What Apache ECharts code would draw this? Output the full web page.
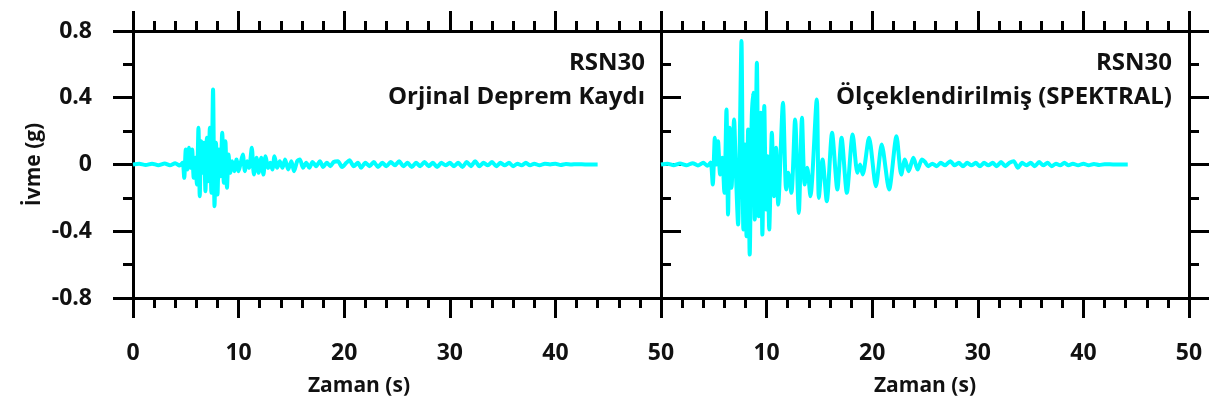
<!DOCTYPE html>
<html>
<head>
<meta charset="utf-8">
<script src="https://cdn.jsdelivr.net/npm/echarts@6/dist/echarts.min.js"></script>
<style>html,body{margin:0;padding:0;background:#fff;}#c{width:1214px;height:405px;}</style>
</head>
<body>
<div id="c"></div>
<script>
// ---- data ----
const xTicks = [0, 10, 20, 30, 40, 50];
const yTicks = [-0.8, -0.4, 0, 0.4, 0.8];
const panelTitles = ['RSN30', 'RSN30'];
const panelSubtitles = ['Orjinal Deprem Kaydı', 'Ölçeklendirilmiş (SPEKTRAL)'];
const xAxisTitle = 'Zaman (s)';
const yAxisTitle = 'İvme (g)';

const timeOrig = [0,0.6,1.2,1.8,2.4,3.0,3.5,4.0,4.4,4.7,4.85,5.0,5.15,5.3,5.45,5.6,5.75,5.9,6.05,6.2,6.32,6.45,6.58,6.72,6.86,7.0,7.12,7.28,7.42,7.58,7.72,7.86,8.0,8.14,8.28,8.45,8.6,8.75,8.9,9.05,9.2,9.4,9.6,9.8,10.0,10.2,10.4,10.6,10.8,11.0,11.25,11.45,11.7,11.9,12.15,12.35,12.55,12.8,13.0,13.2,13.4,13.65,13.9,14.15,14.4,14.7,15.0,15.25,15.55,15.8,16.1,16.4,16.7,17.0,17.35,17.7,18.0,18.35,18.7,19.0,19.4,19.8,20.2,20.5,20.9,21.3,21.6,22.0,22.4,22.8,23.2,23.6,24.0,24.4,24.8,25.2,25.6,26.0,26.4,26.8,27.2,27.6,28.0,28.4,28.8,29.2,29.6,30.0,30.4,30.8,31.2,31.6,32.0,32.4,32.8,33.2,33.6,34.0,34.4,34.8,35.2,35.6,36.0,36.4,36.8,37.2,37.6,38.0,38.5,39.0,39.5,40.0,40.5,41.0,41.5,42.0,43.0,44.0];
const accOrig = [0,0.004,-0.003,0.005,-0.004,0.006,-0.005,0.008,-0.006,0.01,-0.08,0.09,-0.03,0.10,-0.02,0.09,-0.08,0.04,-0.12,0.22,-0.19,0.14,-0.05,0.13,-0.16,0.16,-0.10,0.22,-0.17,0.45,-0.25,0.13,-0.18,0.09,-0.07,0.19,-0.11,0.14,-0.14,0.06,-0.05,0.02,-0.04,0.03,-0.04,0.01,0.06,-0.04,0.02,-0.02,0.10,-0.06,0.04,-0.05,0.04,-0.06,0.05,-0.02,0.01,-0.03,0.05,-0.02,0.02,-0.02,0.03,-0.03,0.02,-0.04,0.02,0.03,-0.02,0.01,-0.02,0.015,-0.01,0.02,-0.015,0.01,-0.01,0.015,0.02,-0.015,0.01,0.025,-0.01,0.01,-0.02,0.01,-0.01,0.015,-0.015,0.01,-0.01,0.015,-0.005,0.02,-0.01,0.01,-0.015,0.01,-0.01,0.015,-0.01,0.01,-0.015,0.01,-0.005,0.01,-0.01,0.01,-0.015,0.015,-0.01,0.02,-0.01,0.01,-0.005,0.015,-0.01,0.01,-0.005,0.01,-0.01,0.005,-0.005,0.01,-0.005,0.005,-0.005,0.005,0,0.005,-0.003,0.003,0,0.002,0,0];

const timeScaled = [0,0.6,1.2,1.8,2.4,3.0,3.5,4.0,4.4,4.7,4.9,5.1,5.25,5.4,5.6,5.8,6.0,6.2,6.35,6.5,6.68,6.92,7.1,7.3,7.45,7.62,7.8,7.95,8.1,8.25,8.4,8.58,8.72,8.88,9.08,9.25,9.45,9.6,9.78,9.95,10.1,10.25,10.5,10.7,10.9,11.1,11.55,11.85,12.05,12.35,12.7,13.05,13.35,13.6,13.85,14.15,14.75,14.95,15.3,15.7,16.2,16.7,17.1,17.6,18.15,18.6,18.85,19.1,19.7,20.35,20.9,21.6,22.3,22.75,23.1,23.45,23.9,24.3,24.7,25.0,25.3,25.7,26.1,26.5,26.9,27.4,27.8,28.2,28.6,29.0,29.4,29.8,30.2,30.6,31.0,31.4,31.8,32.2,32.6,33.0,33.4,33.8,34.2,34.6,35.0,35.4,35.8,36.2,36.6,37.0,37.4,37.8,38.2,38.6,39.0,39.5,40.0,40.5,41.0,41.5,42.0,43.0,44.2];
const accScaled = [0,0.005,-0.004,0.006,-0.005,0.008,-0.006,0.01,-0.008,0.012,-0.12,0.16,0.0,0.14,-0.06,0.04,-0.17,0.33,-0.30,0.22,-0.14,0.27,-0.06,-0.36,0.10,0.74,-0.39,0.12,-0.43,0.21,-0.54,0.25,0.43,-0.33,0.61,-0.31,0.31,-0.42,0.35,-0.27,0.05,-0.39,0.19,-0.19,0.10,-0.24,0.37,-0.15,-0.05,-0.17,0.27,-0.29,0.28,-0.12,-0.02,-0.19,0.39,-0.20,0.03,-0.22,0.19,-0.15,0.16,-0.17,0.18,-0.05,0.0,-0.06,0.16,-0.13,0.12,-0.15,0.17,-0.06,0.03,-0.04,0.04,-0.03,0.03,0.015,-0.01,0.005,-0.01,0.01,-0.005,0.02,-0.005,0.01,-0.01,0.01,-0.005,0.01,-0.01,0.01,-0.005,0.01,-0.01,0.015,-0.01,0.01,0.02,-0.02,0.01,-0.005,0.01,-0.01,0.015,-0.005,0.01,-0.01,0.005,-0.005,0.01,-0.005,0.005,-0.005,0.005,-0.005,0.003,-0.003,0.002,0,0];

// ---- chart ----
const FONT = '"Open Sans"';
const INK = '#111';
const LINE_COLOR = '#00FFFF';
const AX_W = 3;
const TICK_FS = 23, TITLE_FS = 21, NOTE_FS = 24;
const chart = echarts.init(document.getElementById('c'), null, {renderer: 'canvas'});

function zip(t, a) { return t.map((v, i) => [v, a[i]]); }

const gridTop = 31, gridBottom = 107;
const grids = [
  {left: 133, right: 1214 - 661, top: gridTop, bottom: gridBottom},
  {left: 661, right: 1214 - 1189, top: gridTop, bottom: gridBottom}
];

const xMin = xTicks[0], xMax = xTicks[xTicks.length - 1], xInt = xTicks[1] - xTicks[0];
const yMin = yTicks[0], yMax = yTicks[yTicks.length - 1], yInt = yTicks[1] - yTicks[0];

const lineStyle = {color: '#000', width: AX_W};
function xAxisDef(gi, pos, labels, name, namePad) {
  return {
    type: 'value', gridIndex: gi, position: pos, min: xMin, max: xMax, interval: xInt,
    axisLine: {show: true, onZero: false, lineStyle},
    axisTick: {show: true, inside: false, length: 20, lineStyle: {color: '#000', width: AX_W}},
    minorTick: {show: true, splitNumber: 5, length: 10, lineStyle: {color: '#000', width: AX_W}},
    splitLine: {show: false}, minorSplitLine: {show: false},
    axisLabel: labels ? {show: true, margin: 44, color: INK, fontFamily: FONT, fontWeight: 'bold', fontSize: TICK_FS,
      showMinLabel: gi === 0, formatter: v => String(v)} : {show: false},
    name: name || '', nameLocation: 'middle', nameGap: 78,
    nameTextStyle: {color: INK, fontFamily: FONT, fontWeight: 'bold', fontSize: TITLE_FS, padding: namePad || 0}
  };
}
function yAxisDef(gi, pos, labels, ticks, name) {
  return {
    type: 'value', gridIndex: gi, position: pos, min: yMin, max: yMax, interval: yInt,
    axisLine: {show: true, onZero: false, lineStyle},
    axisTick: {show: ticks, inside: false, length: 20, lineStyle: {color: '#000', width: AX_W}},
    minorTick: {show: ticks, splitNumber: 2, length: 10, lineStyle: {color: '#000', width: AX_W}},
    splitLine: {show: false}, minorSplitLine: {show: false},
    axisLabel: labels ? {show: true, margin: 41, color: INK, fontFamily: FONT, fontWeight: 'bold', fontSize: TICK_FS,
      formatter: v => String(Math.round(v * 10) / 10)} : {show: false},
    name: name || '', nameLocation: 'middle', nameGap: 88, nameRotate: 90,
    nameTextStyle: {color: INK, fontFamily: FONT, fontWeight: 'bold', fontSize: TITLE_FS}
  };
}

function note(text, x, y) {
  return {type: 'text', x: x, y: y,
    style: {text: text, fill: INK, font: 'bold ' + NOTE_FS + 'px "Open Sans"', textAlign: 'right', textVerticalAlign: 'middle'}};
}

const option = {
  animation: false,
  backgroundColor: '#fff',
  grid: grids,
  xAxis: [
    xAxisDef(0, 'bottom', true, xAxisTitle, [0, 76, 0, 0]),
    xAxisDef(0, 'top', false),
    xAxisDef(1, 'bottom', true, xAxisTitle),
    xAxisDef(1, 'top', false)
  ],
  yAxis: [
    yAxisDef(0, 'left', true, true, yAxisTitle),
    yAxisDef(0, 'right', false, true),
    yAxisDef(1, 'left', false, false),
    yAxisDef(1, 'right', false, true)
  ],
  series: [
    {type: 'line', xAxisIndex: 0, yAxisIndex: 0, data: zip(timeOrig, accOrig), showSymbol: false,
      smooth: 0.25, lineStyle: {color: LINE_COLOR, width: 4}, z: 1},
    {type: 'line', xAxisIndex: 2, yAxisIndex: 2, data: zip(timeScaled, accScaled), showSymbol: false,
      smooth: 0.25, lineStyle: {color: LINE_COLOR, width: 4}, z: 1}
  ],
  graphic: [
    note(panelTitles[0], 645, 63),
    note(panelSubtitles[0], 645, 97),
    note(panelTitles[1], 1172, 63),
    note(panelSubtitles[1], 1172, 97)
  ]
};
chart.setOption(option);
</script>
</body>
</html>
